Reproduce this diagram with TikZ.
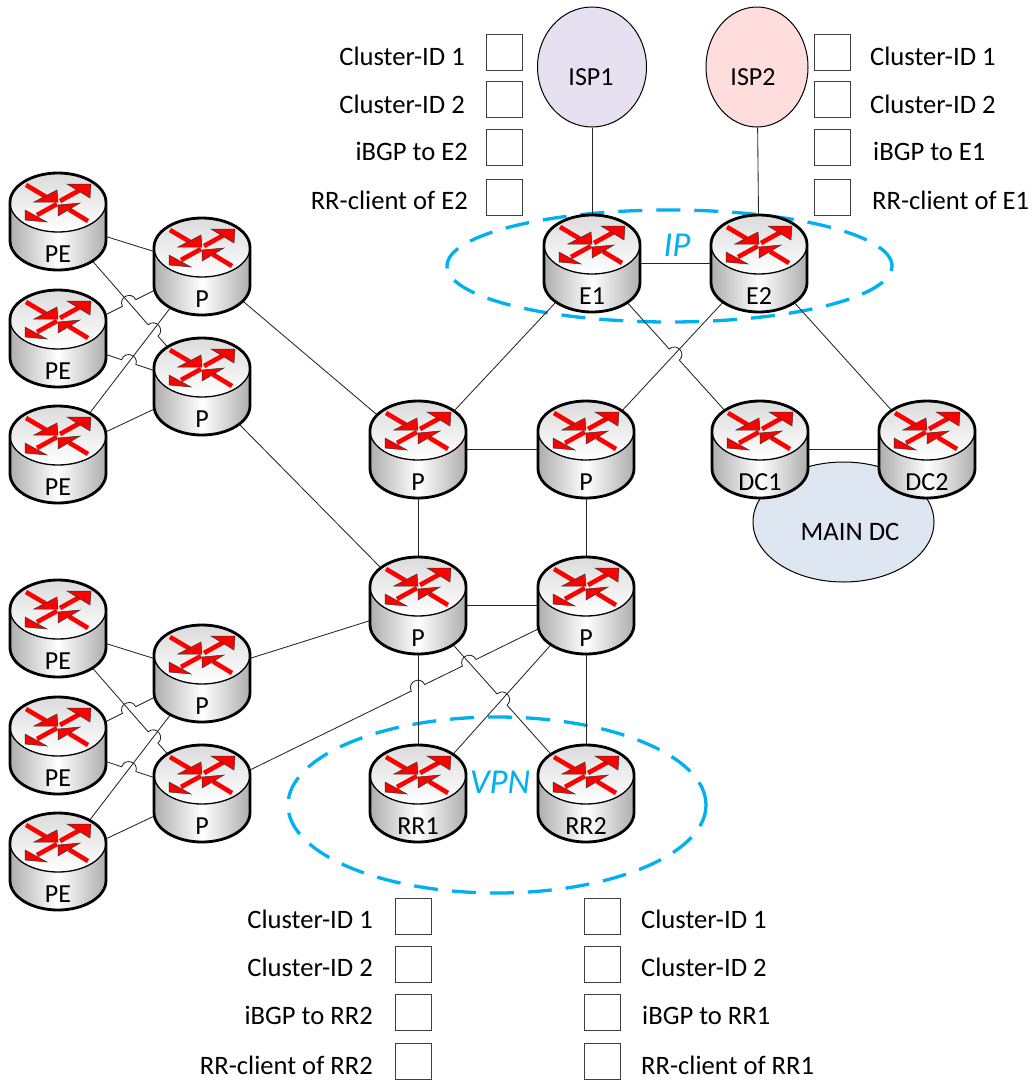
\documentclass[tikz,border=0pt]{standalone}
\usepackage{fontspec}
\setmainfont{Carlito}
\usetikzlibrary{calc,shapes.geometric,backgrounds}
\definecolor{dashblue}{RGB}{0,176,240}
\definecolor{ispa}{RGB}{230,224,240}
\definecolor{ispb}{RGB}{255,221,221}
\definecolor{dcfill}{RGB}{222,230,242}
\definecolor{arrred}{RGB}{255,0,0}
\tikzset{
  routerbox/.style={minimum width=98pt,minimum height=97pt,inner sep=0pt,outer sep=0pt},
  routertext/.style={inner sep=0pt,font=\fontsize{26}{30}\selectfont},
  wire/.style={line width=0.85pt,draw=black!85},
  hop/.style={to path={.. controls ($(\tikztostart)!.67!90:(\tikztotarget)$) and ($(\tikztotarget)!.67!-90:(\tikztostart)$) .. (\tikztotarget)}},
  tick/.style={draw=black!75,line width=0.8pt,fill=white,minimum width=36pt,minimum height=36pt,inner sep=0pt,outer sep=0pt},
  lab/.style={inner sep=0pt,font=\fontsize{26.6}{30}\selectfont},
  zone/.style={ellipse,draw=dashblue,line width=3.3pt,dash pattern=on 24pt off 14pt,inner sep=0pt},
  zonetext/.style={inner sep=0pt,text=dashblue,font=\fontsize{35}{40}\selectfont\itshape},
  cloud/.style={ellipse,draw=black,line width=1pt,inner sep=0pt}
}
\newcommand\rarw[5]{%
  \draw[arrred,line width=4.6pt] (#1) -- (#2);
  \filldraw[fill=arrred,draw=black!80,line width=0.5pt,line join=miter] (#3) -- (#4) -- (#5) -- cycle;
}
\newcommand\router[4]{%
  \begin{scope}[shift={(#2,#3)}]
    \path[left color=black!32,right color=black!32,middle color=white]
      (-48pt,-29.5pt) -- (-48pt,-67.5pt) arc[start angle=180,end angle=360,x radius=48pt,y radius=29.5pt] -- (48pt,-29.5pt) -- cycle;
    \path[top color=black!14,bottom color=white] (0pt,-29.5pt) ellipse[x radius=48pt,y radius=29.5pt];
    \draw[line width=1.3pt] (0pt,-29.5pt) ellipse[x radius=48pt,y radius=29.5pt];
    \begin{scope}[shift={(0,30)}]
      \rarw{-32,-18}{-12.5,-6.5}{0,-1}{-1,-13}{-24,-1}
      \rarw{2,-2}{21,-12.5}{33,-19}{9,-19}{32,-5}
      \rarw{-1,1}{-21,12}{-33,17}{-33,7}{-11,19}
      \rarw{30,18}{11,6.5}{0,2}{22,0}{0,13}
    \end{scope}
    \draw[line width=2.8pt,line join=round] (-48pt,-29.5pt) arc[start angle=180,end angle=0,x radius=48pt,y radius=29.5pt] -- (48pt,-67.5pt)
      arc[start angle=360,end angle=180,x radius=48pt,y radius=29.5pt] -- cycle;
    \node[routerbox] (#1) at (0,48.5) {};
    \node[routertext] (#1-text) at (0,81.5) {#4};
  \end{scope}%
}
\newcommand\hopat[5]{%
  \coordinate (#1) at (intersection of #2.center--#3.center and #4.center--#5.center);
  \coordinate (#1a) at ($(#1)!7.5pt!(#2.center)$);
  \coordinate (#1b) at ($(#1)!7.5pt!(#3.center)$);
}
\begin{document}
\begin{tikzpicture}[x=1pt,y=-1pt]
\useasboundingbox (0,0) rectangle (1035,1082);
\router{peA}{58}{173}{PE}
\router{peB}{58}{290}{PE}
\router{peC}{58}{406}{PE}
\router{pA}{202}{218}{P}
\router{pB}{202}{338}{P}
\router{peD}{58}{580}{PE}
\router{peE}{58}{697}{PE}
\router{peF}{58}{813}{PE}
\router{pC}{202}{625}{P}
\router{pD}{202}{745}{P}
\router{eA}{592}{215}{E1}
\router{eB}{759}{215}{E2}
\router{pE}{418}{401}{P}
\router{pF}{586}{401}{P}
\router{dA}{760}{401}{DC1}
\router{dB}{927}{401}{DC2}
\router{pG}{418}{557}{P}
\router{pH}{586}{557}{P}
\router{rA}{418}{745}{RR1}
\router{rB}{586}{745}{RR2}
\node[routertext] (isplabA) at (591,77) {ISP1};
\node[routertext] (isplabB) at (753,77) {ISP2};
\node[lab] (maindc) at (850,532) {MAIN DC};
\node[zonetext] (iplab) at (677,245) {IP};
\node[zonetext] (vpnlab) at (500,782) {VPN};
% check boxes and labels
\foreach \n/\yy in {1/52,2/99,3/147,4/197}{
  \node[tick] (tl\n) at (504,\yy) {};
  \node[tick] (tr\n) at (832,\yy) {};
}
\foreach \n/\yy in {1/916,2/964,3/1012,4/1061}{
  \node[tick] (bl\n) at (413,\yy) {};
  \node[tick] (br\n) at (602,\yy) {};
}
\node[lab,anchor=east] (ltla) at (465,56) {Cluster-ID 1};
\node[lab,anchor=east] (ltlb) at (465,104) {Cluster-ID 2};
\node[lab,anchor=east] (ltlc) at (468,151) {iBGP to E2};
\node[lab,anchor=east] (ltld) at (468,200) {RR-client of E2};
\node[lab,anchor=west] (ltra) at (870,56) {Cluster-ID 1};
\node[lab,anchor=west] (ltrb) at (870,104) {Cluster-ID 2};
\node[lab,anchor=west] (ltrc) at (873,151) {iBGP to E1};
\node[lab,anchor=west] (ltrd) at (872,200) {RR-client of E1};
\node[lab,anchor=east] (lbla) at (373,919) {Cluster-ID 1};
\node[lab,anchor=east] (lblb) at (373,967) {Cluster-ID 2};
\node[lab,anchor=east] (lblc) at (373,1015) {iBGP to RR2};
\node[lab,anchor=east] (lbld) at (373,1065) {RR-client of RR2};
\node[lab,anchor=west] (lbra) at (641,919) {Cluster-ID 1};
\node[lab,anchor=west] (lbrb) at (641,967) {Cluster-ID 2};
\node[lab,anchor=west] (lbrc) at (642,1015) {iBGP to RR1};
\node[lab,anchor=west] (lbrd) at (641,1065) {RR-client of RR1};
\begin{scope}[on background layer]
  \node[cloud,fill=dcfill,minimum width=181pt,minimum height=120pt] (main) at (843.5,522) {};
  \node[zone,minimum width=445pt,minimum height=112pt] (ipz) at (669.5,266) {};
  \node[zone,minimum width=418pt,minimum height=176pt] (vpnz) at (497,805) {};
  \node[cloud,fill=ispa,minimum width=109pt,minimum height=120pt] (ispA) at (592,67) {};
  \node[cloud,fill=ispb,minimum width=102pt,minimum height=120pt] (ispB) at (757,67) {};
  \draw[wire] (ispA) -- (eA.center);
  \draw[wire] (ispB) -- (eB.center);
  \draw[wire] (eA.center) -- (eB.center);
  \draw[wire] (pE.center) -- (eA.center);
  \draw[wire] (pF.center) -- (eB.center);
  \hopat{hE}{eA}{dA}{pF}{eB}
  \draw[wire] (eA.center) -- (hEa) to[hop] (hEb) -- (dA.center);
  \draw[wire] (eB.center) -- (dB.center);
  \draw[wire] (dA.center) -- (dB.center);
  \draw[wire] (pE.center) -- (pF.center);
  \draw[wire] (pE.center) -- (pG.center);
  \draw[wire] (pF.center) -- (pH.center);
  \draw[wire] (pG.center) -- (pH.center);
  \draw[wire] (pG.center) -- (rA.center);
  \draw[wire] (pH.center) -- (rB.center);
  \draw[wire] (pH.center) -- (rA.center);
  \hopat{hR}{pG}{rB}{pH}{rA}
  \draw[wire] (pG.center) -- (hRa) to[hop] (hRb) -- (rB.center);
  \hopat{hPa}{pD}{pH}{pG}{rA}
  \hopat{hPb}{pD}{pH}{pG}{rB}
  \draw[wire] (pD.center) -- (hPaa) to[hop] (hPab) -- (hPba) to[hop] (hPbb) -- (pH.center);
  \draw[wire] (pA.center) -- (pE.center);
  \draw[wire] (pB.center) -- (pG.center);
  \draw[wire] (pC.center) -- (pG.center);
  % upper cluster
  \draw[wire] (peA.center) -- (pA.center);
  \draw[wire] (peC.center) -- (pA.center);
  \draw[wire] (peC.center) -- (pB.center);
  \hopat{hA}{peB}{pA}{peA}{pB}
  \draw[wire] (peB.center) -- (hAa) to[hop] (hAb) -- (pA.center);
  \hopat{hB}{peA}{pB}{peC}{pA}
  \draw[wire] (peA.center) -- (hBa) to[hop] (hBb) -- (pB.center);
  \hopat{hC}{peB}{pB}{peC}{pA}
  \draw[wire] (peB.center) -- (hCa) to[hop] (hCb) -- (pB.center);
  % lower cluster
  \draw[wire] (peD.center) -- (pC.center);
  \draw[wire] (peF.center) -- (pC.center);
  \draw[wire] (peF.center) -- (pD.center);
  \hopat{hF}{peE}{pC}{peD}{pD}
  \draw[wire] (peE.center) -- (hFa) to[hop] (hFb) -- (pC.center);
  \hopat{hG}{peD}{pD}{peF}{pC}
  \draw[wire] (peD.center) -- (hGa) to[hop] (hGb) -- (pD.center);
  \hopat{hH}{peE}{pD}{peF}{pC}
  \draw[wire] (peE.center) -- (hHa) to[hop] (hHb) -- (pD.center);
\end{scope}
\end{tikzpicture}
\end{document}
